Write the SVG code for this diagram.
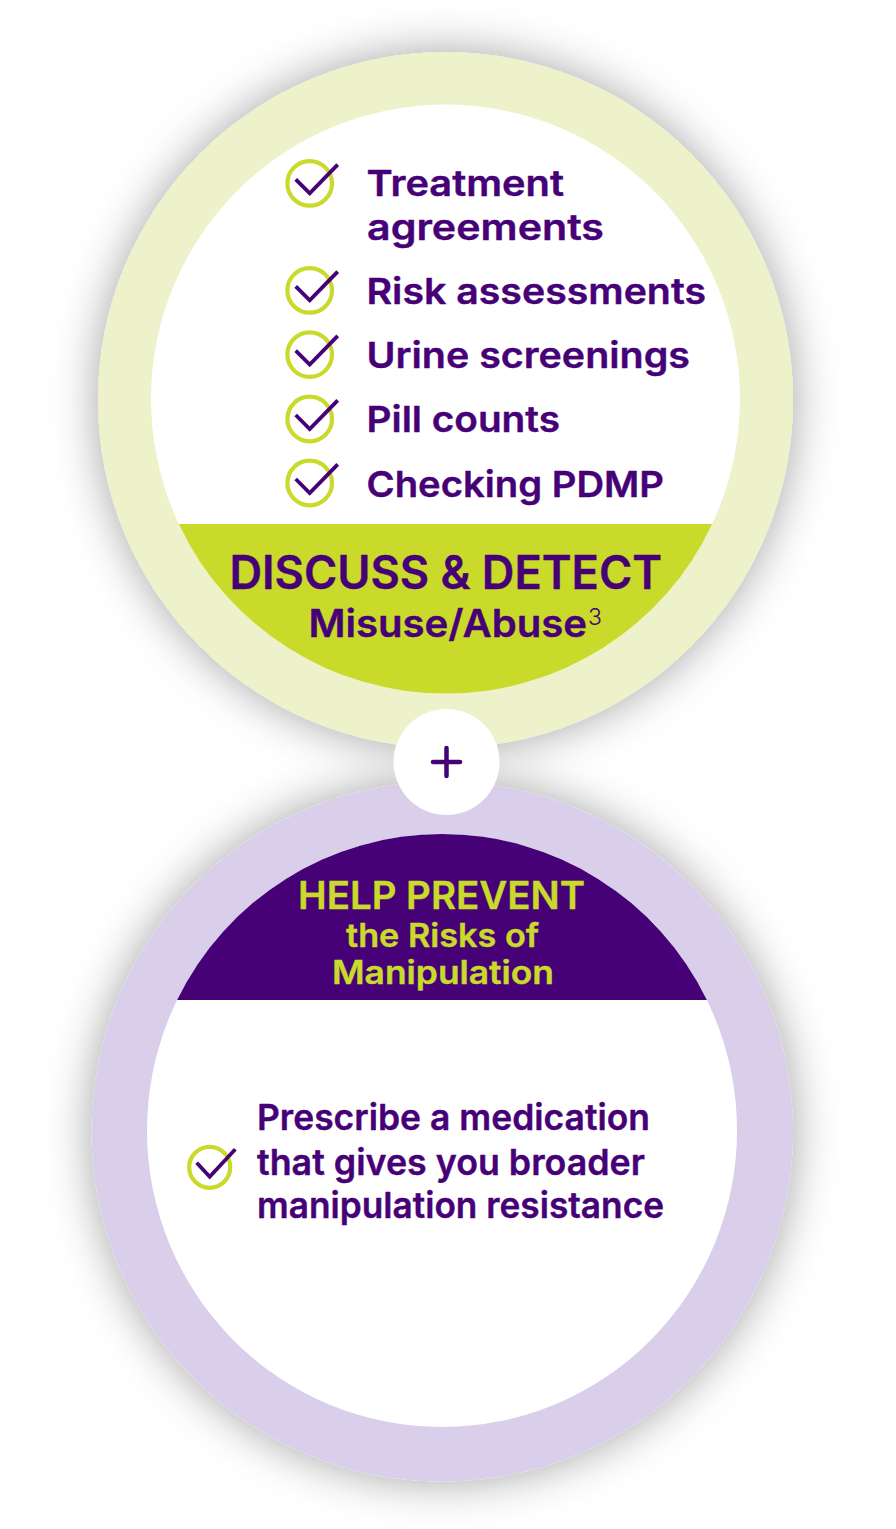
<svg xmlns="http://www.w3.org/2000/svg" width="896" height="1529" viewBox="0 0 896 1529">
<style>
text{font-family:"Inter","Liberation Sans",sans-serif;font-weight:600;stroke-linejoin:round;stroke-width:.4}
.p{fill:#470177;stroke:#470177}
.g{fill:#c9da2b;stroke:#c9da2b}
.i{font-size:36px}
.r{fill:none;stroke:#c9da2b;stroke-width:4.2}
.c{fill:none;stroke:#470177;stroke-width:3.8}
</style>
<defs>
<filter id="sh" x="-20%" y="-20%" width="140%" height="140%"><feDropShadow dx="0" dy="0" stdDeviation="23" flood-color="#000" flood-opacity="0.36"/></filter>
<g id="chk"><circle class="r" cx="0" cy="0" r="22.300"/><path class="c" d="M-14-4 0 10 28-18.700"/></g>
</defs>
<rect width="896" height="1529" fill="#fff"/>
<g id="bottom-circle">
<ellipse cx="442.300" cy="1131.500" rx="350.700" ry="350" fill="#d9cfeb" filter="url(#sh)"/>
<ellipse cx="442" cy="1130.500" rx="295" ry="296.500" fill="#fff"/>
<path d="M177.100 1000A295 296.500 0 0 1 706.900 1000Z" fill="#470177"/>
<text class="g" x="298" y="909" font-size="38" textLength="287" lengthAdjust="spacingAndGlyphs">HELP PREVENT</text>
<text class="g" x="346" y="947" font-size="32" textLength="193" lengthAdjust="spacingAndGlyphs">the Risks of</text>
<text class="g" x="332" y="984" font-size="32" textLength="222" lengthAdjust="spacingAndGlyphs">Manipulation</text>
<circle class="r" cx="209.700" cy="1167.300" r="20.500"/>
<path class="c" d="M196.700 1162.700 209.700 1176.700 235.300 1149.300"/>
<text class="p i" x="257" y="1130" textLength="393" lengthAdjust="spacingAndGlyphs">Prescribe a medication</text>
<text class="p i" x="257" y="1175" textLength="388" lengthAdjust="spacingAndGlyphs">that gives you broader</text>
<text class="p i" x="257" y="1218" textLength="407" lengthAdjust="spacingAndGlyphs">manipulation resistance</text>
</g>
<g id="top-circle">
<ellipse cx="445.500" cy="400" rx="347.500" ry="348" fill="#edf2cb" filter="url(#sh)"/>
<circle cx="445.500" cy="399" r="294.500" fill="#fff"/>
<path d="M178.800 524H712.200A294.500 294.500 0 0 1 178.800 524Z" fill="#c9da2b"/>
<use href="#chk" x="309.700" y="183.400"/>
<use href="#chk" x="309.700" y="290.400"/>
<use href="#chk" x="309.700" y="354.600"/>
<use href="#chk" x="309.700" y="419"/>
<use href="#chk" x="309.700" y="483"/>
<text class="p i" x="366.500" y="196" textLength="197.500" lengthAdjust="spacingAndGlyphs">Treatment</text>
<text class="p i" x="367" y="240" textLength="237" lengthAdjust="spacingAndGlyphs">agreements</text>
<text class="p i" x="366.500" y="304" textLength="339.500" lengthAdjust="spacingAndGlyphs">Risk assessments</text>
<text class="p i" x="366.500" y="368" textLength="323.500" lengthAdjust="spacingAndGlyphs">Urine screenings</text>
<text class="p i" x="366.500" y="432" textLength="193.500" lengthAdjust="spacingAndGlyphs">Pill counts</text>
<text class="p i" x="366.500" y="497" textLength="297.500" lengthAdjust="spacingAndGlyphs">Checking PDMP</text>
<text class="p" x="229.500" y="589" font-size="46" textLength="432.500" lengthAdjust="spacingAndGlyphs">DISCUSS &amp; DETECT</text>
<text class="p" x="308.500" y="637" font-size="38" textLength="278.500" lengthAdjust="spacingAndGlyphs">Misuse/Abuse</text>
<text x="588" y="625" font-size="23" fill="#470177" style="font-weight:300;stroke:none">3</text>
</g>
<g id="plus">
<circle cx="446.500" cy="762" r="53" fill="#fff"/>
<path d="M433 762H460M446.500 748V776" fill="none" stroke="#470177" stroke-width="4.500" stroke-linecap="round"/>
</g>
<g id="connectors"></g>
</svg>
